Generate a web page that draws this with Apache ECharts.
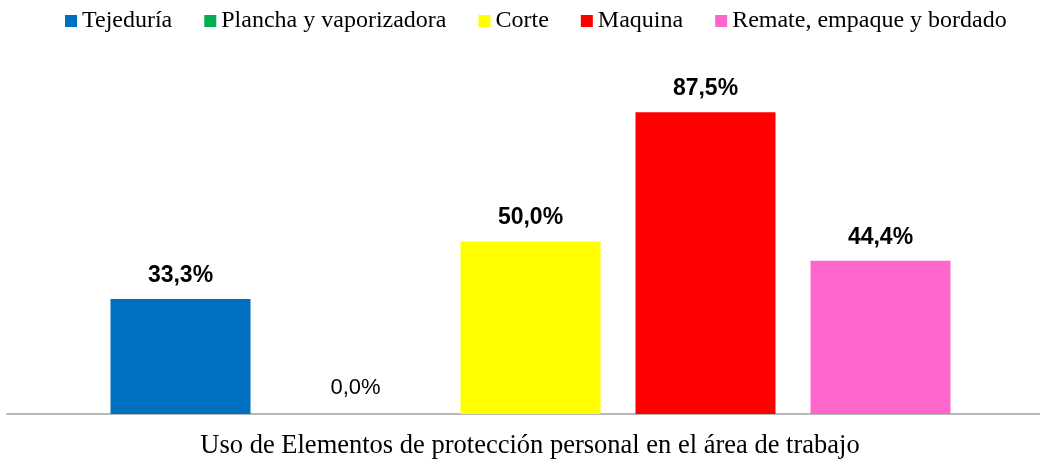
<!DOCTYPE html>
<html>
<head>
<meta charset="utf-8">
<script src="https://cdn.jsdelivr.net/npm/echarts@6/dist/echarts.min.js"></script>
<style>html,body{margin:0;padding:0;background:#fff}#c{width:1040px;height:460px}</style>
</head>
<body>
<div id="c"></div>
<script>
const categories = ['Uso de Elementos de protección personal en el área de trabajo'];
const seriesNames = ['Tejeduría', 'Plancha y vaporizadora', 'Corte', 'Maquina', 'Remate, empaque y bordado'];
const seriesValues = [33.3, 0.0, 50.0, 87.5, 44.4];
const seriesColors = ['#0070C0', '#00B050', '#FFFF00', '#FF0000', '#FF66CC'];

const chart = echarts.init(document.getElementById('c'), null, {renderer: 'canvas'});
const series = seriesNames.map((name, i) => ({
  name: name,
  type: 'bar',
  data: [seriesValues[i]],
  barWidth: 140,
  barGap: '25%',
  itemStyle: {color: seriesColors[i]},
  label: {
    show: true,
    position: 'top',
    distance: seriesValues[i] === 0 ? 15 : 12,
    formatter: p => p.value.toFixed(1).replace('.', ',') + '%',
    fontFamily: 'Liberation Sans',
    fontSize: seriesValues[i] === 0 ? 22 : 23,
    fontWeight: seriesValues[i] === 0 ? 'normal' : 'bold',
    color: '#000'
  }
}));

chart.setOption({
  animation: false,
  legend: {
    top: 4,
    left: 60,
    itemWidth: 12,
    itemHeight: 12,
    itemGap: 32,
    icon: 'rect',
    textStyle: {fontFamily: 'Liberation Serif', fontSize: 24, color: '#000', padding: [0, 0, 0, 0]},
    data: seriesNames
  },
  title: {
    text: categories[0],
    left: 525,
    textAlign: 'center',
    top: 428,
    textStyle: {fontFamily: 'Liberation Serif', fontSize: 26.5, fontWeight: 'normal', color: '#000'}
  },
  grid: [
    {left: 21, right: 0, top: 69, bottom: 46},
    {left: 7, right: 0, top: 69, bottom: 46}
  ],
  xAxis: [
    {
      type: 'category',
      gridIndex: 0,
      data: categories,
      axisLine: {show: false},
      axisTick: {show: false},
      axisLabel: {show: false}
    },
    {
      type: 'category',
      gridIndex: 1,
      data: categories,
      axisLine: {lineStyle: {color: '#A0A0A0', width: 1.5}},
      axisTick: {show: false},
      axisLabel: {show: false}
    }
  ],
  yAxis: [
    {type: 'value', gridIndex: 0, min: 0, max: 100, show: false, splitLine: {show: false}},
    {type: 'value', gridIndex: 1, min: 0, max: 100, show: false, splitLine: {show: false}}
  ],
  series: series
});
</script>
</body>
</html>
